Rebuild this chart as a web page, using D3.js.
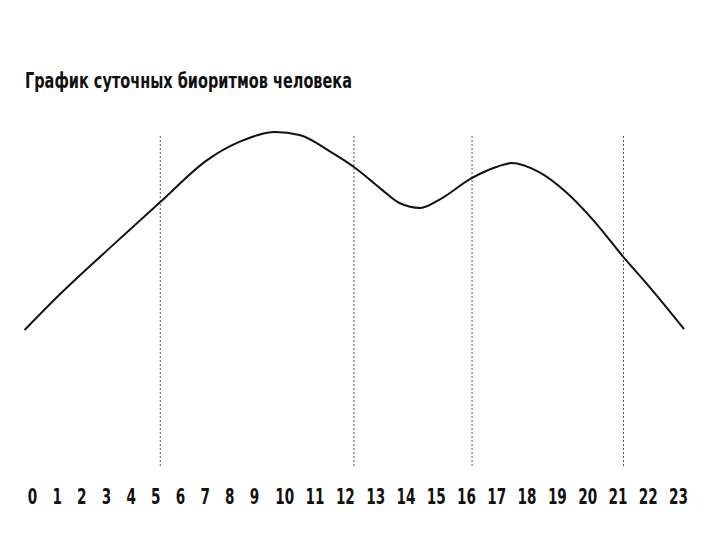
<!DOCTYPE html>
<html>
<head>
<meta charset="utf-8">
<script src="https://cdn.jsdelivr.net/npm/d3@7"></script>
<style>
  html, body { margin: 0; padding: 0; background: #fff; }
  svg { display: block; }
</style>
</head>
<body>
<svg id="chart" width="720" height="540"></svg>
<script>
// ---- data ----
const title = "График суточных биоритмов человека";
const hourTicks = d3.range(0, 24);               // 0 … 23
const curveHours  = [-0.3, 1.1, 3.2, 5.2, 7.1, 8.4, 9.7, 10.5, 11.6, 12.3, 13.2, 13.8, 14.5, 15.1, 16.2, 17.0, 17.5, 18.4, 19.3, 20.2, 21.2, 22.0, 23.2];
const curveLevels = [41.2, 51.8, 66.4, 80, 92.7, 98.2, 101.2, 100.3, 94.8, 90.6, 83.9, 79.7, 78.2, 80.6, 87.3, 90.6, 91.8, 89.1, 83, 74.5, 63.3, 54.9, 41.5];
const markerHours = [5.2, 12.3, 16.2, 21.2];

// ---- scales ----
const svg = d3.select("#chart");
// tick labels in the original are set as running text: single digits sit closer together
const x = d3.scaleLinear().domain([0, 9, 23]).range([32, 254, 678]);
const y = d3.scaleLinear().domain([0, 100]).range([466, 136]);

const condensed = "'Liberation Sans Narrow', 'Arial Narrow', 'DejaVu Sans Condensed', sans-serif";

// title
svg.append("text")
  .attr("x", 25).attr("y", 88)
  .attr("font-family", condensed)
  .attr("font-weight", "bold")
  .attr("font-size", 22)
  .attr("textLength", 327)
  .attr("lengthAdjust", "spacingAndGlyphs")
  .attr("fill", "#111")
  .text(title);

// dotted vertical markers
svg.append("g").selectAll("line")
  .data(markerHours)
  .join("line")
  .attr("x1", d => x(d)).attr("x2", d => x(d))
  .attr("y1", y(100)).attr("y2", y(0))
  .attr("stroke", "#555")
  .attr("stroke-width", 1)
  .attr("stroke-dasharray", "2,2");

// curve
const pts = curveHours.map((h, i) => [h, curveLevels[i]]);
svg.append("path")
  .datum(pts)
  .attr("fill", "none")
  .attr("stroke", "#111")
  .attr("stroke-width", 2)
  .attr("stroke-linejoin", "round")
  .attr("d", d3.line().x(d => x(d[0])).y(d => y(d[1])).curve(d3.curveMonotoneX));

// hour labels
const axis = d3.axisBottom(x).tickValues(hourTicks).tickSize(0).tickPadding(0).tickFormat(d3.format("d"));
const gAxis = svg.append("g").attr("transform", "translate(0,489)").call(axis);
gAxis.select(".domain").remove();
gAxis.selectAll("text")
  .attr("font-family", condensed)
  .attr("font-weight", "bold")
  .attr("font-size", 21)
  .attr("fill", "#111")
  .attr("dy", "0.71em")
  .attr("transform", "scale(0.72,1)");
</script>
</body>
</html>
